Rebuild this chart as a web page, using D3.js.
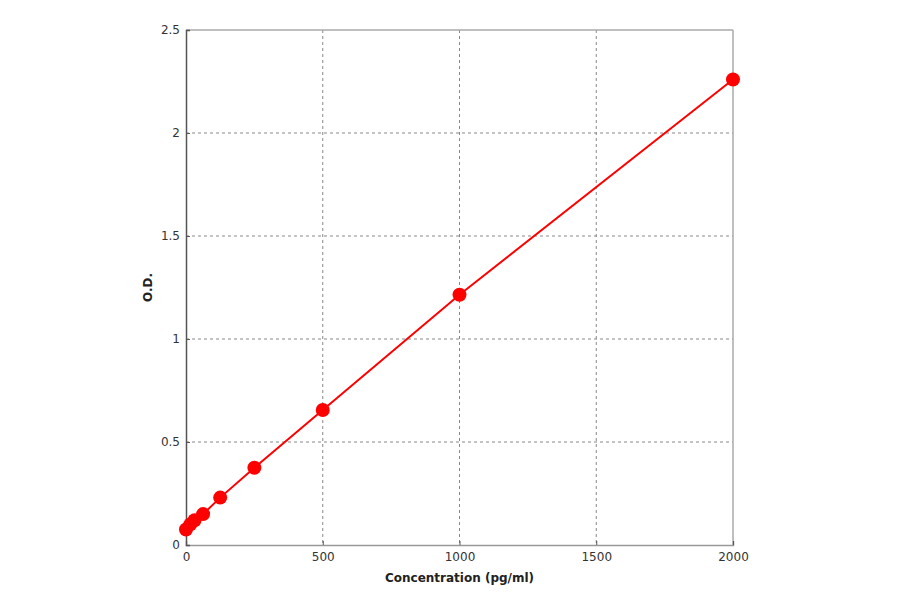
<!DOCTYPE html>
<html>
<head>
<meta charset="utf-8">
<script src="https://cdn.jsdelivr.net/npm/d3@7"></script>
<style>
  body { margin: 0; background: #fff; }
  svg { display: block; }
  .tick text { font-family: "DejaVu Sans", sans-serif; font-size: 12px; fill: #333; }
  .grid line { stroke: #888; stroke-dasharray: 3,3; }
  .title { font-family: "DejaVu Sans", sans-serif; font-size: 12px; font-weight: bold; fill: #222; }
</style>
</head>
<body>
<svg id="chart" width="900" height="594"></svg>
<script>
const concentrations = [0, 15.6, 31.25, 62.5, 125, 250, 500, 1000, 2000];
const odValues = [0.075, 0.10, 0.12, 0.15, 0.23, 0.375, 0.655, 1.215, 2.26];
const xTicks = [0, 500, 1000, 1500, 2000];
const yTicks = [0, 0.5, 1, 1.5, 2, 2.5];

const PLOT = { left: 186, right: 733, top: 30, bottom: 545 };

const svg = d3.select('#chart');
const x = d3.scaleLinear().domain([0, 2000]).range([PLOT.left, PLOT.right]);
const y = d3.scaleLinear().domain([0, 2.5]).range([PLOT.bottom, PLOT.top]);

// grid
const grid = svg.append('g').classed('grid', true);
grid.selectAll('line.v')
  .data(xTicks.slice(1, -1))
  .enter()
    .append('line')
    .attr('x1', (d) => x(d)).attr('x2', (d) => x(d))
    .attr('y1', PLOT.top).attr('y2', PLOT.bottom);
grid.selectAll('line.h')
  .data(yTicks.slice(1, -1))
  .enter()
    .append('line')
    .attr('x1', PLOT.left).attr('x2', PLOT.right)
    .attr('y1', (d) => y(d)).attr('y2', (d) => y(d));

// frame: light top/right, darker left/bottom
svg.append('line')
  .attr('x1', PLOT.left).attr('x2', PLOT.right)
  .attr('y1', PLOT.top).attr('y2', PLOT.top)
  .attr('stroke', '#aaa').attr('stroke-width', 1.5);
svg.append('line')
  .attr('x1', PLOT.right).attr('x2', PLOT.right)
  .attr('y1', PLOT.top).attr('y2', PLOT.bottom)
  .attr('stroke', '#aaa').attr('stroke-width', 1.5);

const xAxis = svg.append('g')
  .attr('transform', `translate(0,${PLOT.bottom})`)
  .call(d3.axisBottom(x).tickValues(xTicks).tickSize(-4).tickPadding(7).tickFormat(d3.format('d')));
xAxis.select('.domain').attr('stroke', '#999').attr('stroke-width', 1.5);
xAxis.selectAll('.tick line').attr('stroke', '#555');

const yAxis = svg.append('g')
  .attr('transform', `translate(${PLOT.left},0)`)
  .call(d3.axisLeft(y).tickValues(yTicks).tickSize(-4).tickPadding(6).tickFormat((d) => String(d)));
yAxis.select('.domain').attr('stroke', '#555').attr('stroke-width', 1.5);
yAxis.selectAll('.tick line').attr('stroke', '#555');

// curve + points
const points = concentrations.map((c, i) => ({ c, od: odValues[i] }));
svg.append('path')
  .datum(points)
  .attr('fill', 'none')
  .attr('stroke', '#ff0000')
  .attr('stroke-width', 2)
  .attr('d', d3.line().x((d) => x(d.c)).y((d) => y(d.od)));
svg.append('g')
  .selectAll('circle')
  .data(points)
  .enter()
    .append('circle')
    .attr('cx', (d) => x(d.c))
    .attr('cy', (d) => y(d.od))
    .attr('r', 7)
    .attr('fill', '#ff0000');

// titles
svg.append('text')
  .classed('title', true)
  .attr('x', (PLOT.left + PLOT.right) / 2)
  .attr('y', 582)
  .attr('text-anchor', 'middle')
  .text('Concentration (pg/ml)');
svg.append('text')
  .classed('title', true)
  .attr('transform', `translate(152,${(PLOT.top + PLOT.bottom) / 2}) rotate(-90)`)
  .attr('text-anchor', 'middle')
  .text('O.D.');
</script>
</body>
</html>
